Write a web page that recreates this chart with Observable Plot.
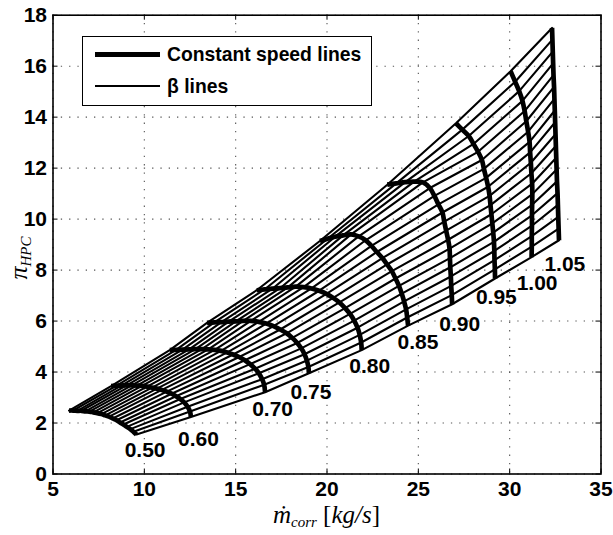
<!DOCTYPE html>
<html><head><meta charset="utf-8">
<script src="https://cdn.jsdelivr.net/npm/d3@7"></script>
<script src="https://cdn.jsdelivr.net/npm/@observablehq/plot@0.6"></script>
<style>
body{margin:0;background:#fff;}
#wrap{position:relative;width:613px;height:535px;}
#legend{position:absolute;left:82px;top:36px;width:288px;height:68px;border:1.6px solid #000;background:#fff;
  font-family:"Liberation Sans",Arial,sans-serif;font-weight:bold;font-size:21px;color:#000;}
#legend .row{position:absolute;left:12px;display:flex;align-items:center;white-space:nowrap;}
#legend .sw{width:65px;background:#000;margin-right:7px;flex:none;}
#legend span{display:inline-block;transform:scaleX(0.92);transform-origin:0 50%;}
</style></head><body><div id="wrap"></div>
<script>
const speeds = [0.50, 0.60, 0.70, 0.75, 0.80, 0.85, 0.90, 0.95, 1.00, 1.05];
const speedLabels = ["0.50","0.60","0.70","0.75","0.80","0.85","0.90","0.95","1.00","1.05"];
// corrected mass flow [kg/s] at each speed, beta from surge (first) to choke (last)
const massFlow = [
 [5.88,6.10,6.33,6.55,6.77,6.99,7.21,7.43,7.65,7.86,8.07,8.27,8.48,8.67,8.85,9.04,9.23,9.40,9.57],
 [8.18,8.46,8.74,9.03,9.31,9.59,9.87,10.15,10.42,10.69,10.96,11.23,11.49,11.73,11.97,12.18,12.37,12.50,12.55],
 [11.39,11.74,12.09,12.45,12.80,13.15,13.50,13.85,14.20,14.54,14.86,15.19,15.50,15.79,16.06,16.27,16.45,16.56,16.61],
 [13.43,13.83,14.22,14.62,15.01,15.41,15.83,16.26,16.67,17.07,17.44,17.79,18.10,18.37,18.59,18.77,18.90,18.98,19.01],
 [16.15,16.58,17.01,17.43,17.86,18.29,18.72,19.15,19.57,19.97,20.34,20.68,20.99,21.26,21.49,21.67,21.79,21.87,21.90],
 [19.61,20.03,20.45,20.88,21.32,21.73,22.11,22.43,22.73,23.03,23.29,23.55,23.75,23.94,24.09,24.22,24.33,24.39,24.44],
 [23.30,23.79,24.28,24.77,25.25,25.63,25.88,26.10,26.32,26.42,26.52,26.63,26.71,26.73,26.75,26.78,26.80,26.83,26.85],
 [27.06,27.41,27.76,28.02,28.27,28.48,28.59,28.71,28.82,28.90,28.95,29.00,29.05,29.10,29.14,29.16,29.17,29.19,29.20],
 [30.05,30.30,30.52,30.70,30.82,30.91,31.01,31.09,31.12,31.16,31.19,31.23,31.24,31.23,31.22,31.22,31.21,31.21,31.20],
 [32.32,32.34,32.36,32.38,32.40,32.43,32.45,32.47,32.49,32.51,32.53,32.55,32.57,32.59,32.62,32.64,32.66,32.68,32.70]
];
// pressure ratio at the same points
const pressureRatio = [
 [2.49,2.49,2.48,2.48,2.46,2.45,2.42,2.39,2.35,2.30,2.25,2.18,2.11,2.02,1.94,1.85,1.76,1.66,1.55],
 [3.45,3.46,3.47,3.48,3.48,3.47,3.46,3.43,3.39,3.35,3.30,3.23,3.15,3.05,2.94,2.81,2.64,2.45,2.24],
 [4.86,4.87,4.88,4.89,4.90,4.90,4.89,4.87,4.83,4.77,4.69,4.59,4.46,4.31,4.13,3.95,3.72,3.50,3.21],
 [5.93,5.95,5.96,5.98,5.99,6.01,6.01,5.97,5.90,5.80,5.67,5.52,5.34,5.14,4.93,4.70,4.45,4.20,3.95],
 [7.21,7.24,7.27,7.29,7.32,7.35,7.33,7.28,7.19,7.07,6.91,6.73,6.51,6.28,6.02,5.74,5.46,5.16,4.86],
 [9.14,9.23,9.31,9.36,9.40,9.32,9.17,8.95,8.71,8.47,8.22,7.96,7.67,7.38,7.08,6.77,6.46,6.14,5.82],
 [11.35,11.40,11.45,11.47,11.44,11.22,10.91,10.58,10.26,9.90,9.55,9.19,8.84,8.47,8.11,7.75,7.38,7.02,6.66],
 [13.76,13.51,13.26,12.95,12.64,12.32,11.97,11.62,11.27,10.91,10.55,10.19,9.83,9.47,9.11,8.75,8.39,8.03,7.67],
 [15.80,15.39,15.02,14.64,14.24,13.84,13.43,13.03,12.62,12.21,11.80,11.39,10.98,10.56,10.15,9.74,9.33,8.92,8.51],
 [17.50,17.04,16.57,16.11,15.65,15.19,14.72,14.26,13.80,13.33,12.87,12.41,11.95,11.48,11.02,10.56,10.09,9.63,9.17]
];
// speed label anchor positions (data units)
const labelMassFlow = [10.04,12.96,17.02,19.12,22.34,24.98,27.27,29.27,31.50,33.02];
const labelPressureRatio = [0.94,1.38,2.55,3.21,4.24,5.18,5.89,6.93,7.50,8.24];
const xTicks = [5,10,15,20,25,30,35];
const yTicks = [0,2,4,6,8,10,12,14,16,18];

const W = 613, H = 535, mL = 52.5, mR = 12.5, mT = 14.7, mB = 61.5;
const innerW = W - mL - mR, innerH = H - mT - mB;

const points = [];
speeds.forEach((n, i) => massFlow[i].forEach((m, j) =>
  points.push({speed: n, beta: j, m, pr: pressureRatio[i][j]})));
const labels = speeds.map((n, i) => ({text: speedLabels[i], m: labelMassFlow[i], pr: labelPressureRatio[i]}));

const font = "'Liberation Sans', Arial, Helvetica, sans-serif";
const plot = Plot.plot({
  width: W, height: H,
  marginLeft: mL, marginRight: mR, marginTop: mT, marginBottom: mB,
  x: {domain: [5, 35], label: null},
  y: {domain: [0, 18], label: null},
  style: {fontFamily: font, fontSize: "21px", fontWeight: "bold", color: "#000", background: "#fff", overflow: "hidden"},
  marks: [
    Plot.gridX(xTicks, {stroke: "#555", strokeOpacity: 1, strokeWidth: 1.1, strokeDasharray: "1.3,7"}),
    Plot.gridY(yTicks, {stroke: "#555", strokeOpacity: 1, strokeWidth: 1.1, strokeDasharray: "1.3,7"}),
    Plot.line(points, {x: "m", y: "pr", z: "beta", stroke: "#000", strokeWidth: 2.1, strokeLinejoin: "round"}),
    Plot.line(points, {x: "m", y: "pr", z: "speed", stroke: "#000", strokeWidth: 4.7, curve: "catmull-rom", strokeLinecap: "butt"}),
    Plot.text(labels, {x: "m", y: "pr", text: "text", fill: "#000", fontSize: 21, fontWeight: "bold", textAnchor: "middle", lineAnchor: "middle"}),
    Plot.tickX(xTicks, {x: d => d, stroke: "#000", strokeWidth: 1, insetTop: innerH - 5}),
    Plot.tickX(xTicks, {x: d => d, stroke: "#000", strokeWidth: 1, insetBottom: innerH - 5}),
    Plot.tickY(yTicks, {y: d => d, stroke: "#000", strokeWidth: 1, insetRight: innerW - 5}),
    Plot.tickY(yTicks, {y: d => d, stroke: "#000", strokeWidth: 1, insetLeft: innerW - 5}),
    Plot.frame({stroke: "#000", strokeWidth: 1.6}),
    Plot.axisX({ticks: xTicks, tickSize: 0, tickPadding: 7, label: null, fontSize: 21, fontWeight: "bold"}),
    Plot.axisY({ticks: yTicks, tickSize: 0, tickPadding: 6, label: null, fontSize: 21, fontWeight: "bold"})
  ]
});

const wrap = document.getElementById("wrap");
wrap.appendChild(plot);
const svg = d3.select(plot);

const serif = "'Liberation Serif', 'DejaVu Serif', serif";
// x axis label
const xl = svg.append("text")
  .attr("x", mL + innerW / 2).attr("y", H - 12)
  .attr("text-anchor", "middle").attr("font-family", serif).attr("font-weight", "normal")
  .attr("font-size", 25).attr("fill", "#000");
xl.append("tspan").attr("font-style", "italic").text("\u1E41");
xl.append("tspan").attr("font-style", "italic").attr("font-size", 15).attr("dy", 4).text("corr");
xl.append("tspan").attr("dy", -4).text(" [");
xl.append("tspan").attr("font-style", "italic").text("kg/s");
xl.append("tspan").text("]");
// y axis label
const yl = svg.append("text")
  .attr("transform", `translate(27,${mT + innerH / 2 + 14}) rotate(-90)`)
  .attr("text-anchor", "middle").attr("font-family", serif).attr("font-weight", "normal")
  .attr("font-size", 26).attr("fill", "#000");
yl.append("tspan").attr("font-style", "italic").text("\u03C0");
yl.append("tspan").attr("font-style", "italic").attr("font-size", 15).attr("dy", 4).text("HPC");

const lg = document.createElement("div");
lg.id = "legend";
lg.innerHTML = `<div class="row" style="top:5px"><div class="sw" style="height:5px"></div><span>Constant speed lines</span></div>
<div class="row" style="top:37px"><div class="sw" style="height:2px"></div><span>\u03B2 lines</span></div>`;
wrap.appendChild(lg);
</script></body></html>
